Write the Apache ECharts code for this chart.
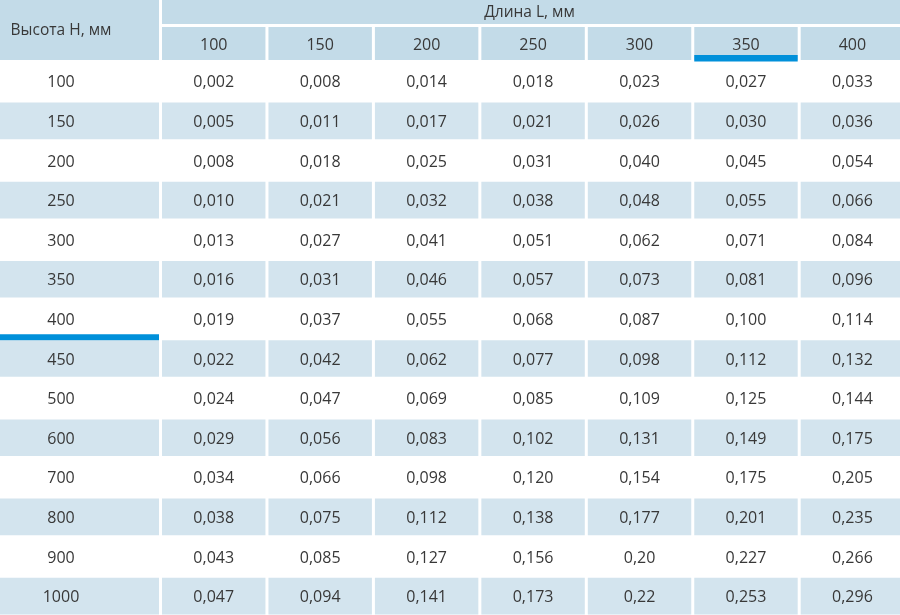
<!DOCTYPE html>
<html>
<head>
<meta charset="utf-8">
<script src="https://cdn.jsdelivr.net/npm/echarts@6/dist/echarts.min.js"></script>
<style>
html,body{margin:0;padding:0;background:#fff;}
#main{width:900px;height:615px;}
</style>
</head>
<body>
<div id="main"></div>
<script>
const titleH = 'Высота H, мм';
const titleL = 'Длина L, мм';
const lengths = ['100', '150', '200', '250', '300', '350', '400'];
const heights = ['100', '150', '200', '250', '300', '350', '400', '450', '500', '600', '700', '800', '900', '1000'];
const row100 = ['0.002', '0.008', '0.014', '0.018', '0.023', '0.027', '0.033'];
const row150 = ['0.005', '0.011', '0.017', '0.021', '0.026', '0.030', '0.036'];
const row200 = ['0.008', '0.018', '0.025', '0.031', '0.040', '0.045', '0.054'];
const row250 = ['0.010', '0.021', '0.032', '0.038', '0.048', '0.055', '0.066'];
const row300 = ['0.013', '0.027', '0.041', '0.051', '0.062', '0.071', '0.084'];
const row350 = ['0.016', '0.031', '0.046', '0.057', '0.073', '0.081', '0.096'];
const row400 = ['0.019', '0.037', '0.055', '0.068', '0.087', '0.100', '0.114'];
const row450 = ['0.022', '0.042', '0.062', '0.077', '0.098', '0.112', '0.132'];
const row500 = ['0.024', '0.047', '0.069', '0.085', '0.109', '0.125', '0.144'];
const row600 = ['0.029', '0.056', '0.083', '0.102', '0.131', '0.149', '0.175'];
const row700 = ['0.034', '0.066', '0.098', '0.120', '0.154', '0.175', '0.205'];
const row800 = ['0.038', '0.075', '0.112', '0.138', '0.177', '0.201', '0.235'];
const row900 = ['0.043', '0.085', '0.127', '0.156', '0.20', '0.227', '0.266'];
const row1000 = ['0.047', '0.094', '0.141', '0.173', '0.22', '0.253', '0.296'];
const table = [row100, row150, row200, row250, row300, row350, row400, row450, row500, row600, row700, row800, row900, row1000];
const markedLength = '350';
const markedHeight = '400';

const HEAD = '#c3dbe8', STRIPE = '#d3e4ee', MARK = '#0090da', TXT = '#383838';
const FONT = 'Open Sans';
const GAP = 3;

const cellData = [];
table.forEach((row, r) => row.forEach((v, c) => cellData.push([c, r])));
const rowLabelData = heights.map((h, r) => [0, r]);
const headData = lengths.map((l, c) => [c, 0]);

function txt(text, x, y, size) {
  return {type: 'text', style: {text: text, x: x, y: y, align: 'center', verticalAlign: 'middle',
    fontSize: size, fontFamily: FONT, fill: TXT}};
}

function cellRender(kind) {
  return function (params, api) {
    const c = api.value(0), r = api.value(1);
    const p = api.coord([c, r]);
    const s = api.size([1, 1]);
    const x0 = p[0] - s[0] / 2, y0 = p[1] - s[1] / 2;
    let w = s[0] - GAP;
    const h = s[1] - GAP;
    let label, fill, tx = x0 + w / 2, ty = y0 + h / 2 + 1.5, size = 16;
    if (kind === 'data') { label = table[r][c].replace('.', ','); fill = (r % 2 === 1) ? STRIPE : '#ffffff'; }
    else if (kind === 'rows') { label = heights[r]; fill = (r % 2 === 1) ? STRIPE : '#ffffff'; tx = 61; }
    else if (kind === 'head') { label = lengths[c]; fill = HEAD; }
    else if (kind === 'top') { label = titleL; fill = HEAD; size = 15.5; w = s[0]; tx = x0 + (s[0] - GAP) / 2; ty = y0 + h / 2 + 1; }
    else { label = titleH; fill = HEAD; size = 15.5; tx = 61; ty = 31; }
    const children = [{type: 'rect', shape: {x: x0, y: y0, width: w, height: h}, style: {fill: fill}}];
    children.push(txt(label, tx, ty, size));
    if (kind === 'head' && lengths[c] === markedLength) {
      children.push({type: 'rect', shape: {x: x0, y: y0 + h - 5, width: w, height: 6.5}, style: {fill: MARK}});
    }
    if (kind === 'rows' && heights[r] === markedHeight) {
      children.push({type: 'rect', shape: {x: x0, y: y0 + h - 3, width: w, height: 6.5}, style: {fill: MARK}});
    }
    return {type: 'group', children: children};
  };
}

const colPitch = 106.45, rowPitch = 39.6;
const dataLeft = 162, dataTop = 63;
const dataW = 900 - dataLeft, dataH = 615 - dataTop;
const xMaxData = -0.5 + dataW / colPitch;
const yMaxData = -0.5 + dataH / rowPitch;

const grids = [
  {left: 0, top: 0, width: 162, height: 63},                  // corner
  {left: dataLeft, top: 0, width: dataW, height: 27},         // top header span
  {left: dataLeft, top: 27, width: dataW, height: 36},        // length header
  {left: 0, top: dataTop, width: 162, height: dataH},         // row labels
  {left: dataLeft, top: dataTop, width: dataW, height: dataH} // data cells
];
const colAxis = (g) => ({gridIndex: g, type: 'value', min: -0.5, max: xMaxData, show: false, splitLine: {show: false}});
const oneAxis = (g) => ({gridIndex: g, type: 'value', min: -0.5, max: 0.5, show: false, splitLine: {show: false}});
const rowAxis = (g) => ({gridIndex: g, type: 'value', min: -0.5, max: yMaxData, inverse: true, show: false, splitLine: {show: false}});
const xAxes = [oneAxis(0), oneAxis(1), colAxis(2), oneAxis(3), colAxis(4)];
const yAxes = [
  Object.assign(oneAxis(0), {inverse: true}),
  Object.assign(oneAxis(1), {inverse: true}),
  Object.assign(oneAxis(2), {inverse: true}),
  rowAxis(3), rowAxis(4)
];

const chart = echarts.init(document.getElementById('main'), null, {renderer: 'canvas'});
chart.setOption({
  animation: false,
  backgroundColor: '#ffffff',
  grid: grids,
  xAxis: xAxes,
  yAxis: yAxes,
  series: [
    {type: 'custom', xAxisIndex: 0, yAxisIndex: 0, clip: false, renderItem: cellRender('corner'), data: [[0, 0]]},
    {type: 'custom', xAxisIndex: 1, yAxisIndex: 1, clip: false, renderItem: cellRender('top'), data: [[0, 0]]},
    {type: 'custom', xAxisIndex: 2, yAxisIndex: 2, clip: false, renderItem: cellRender('head'), data: headData},
    {type: 'custom', xAxisIndex: 3, yAxisIndex: 3, clip: false, renderItem: cellRender('rows'), data: rowLabelData},
    {type: 'custom', xAxisIndex: 4, yAxisIndex: 4, clip: false, renderItem: cellRender('data'), data: cellData}
  ]
});
</script>
</body>
</html>
